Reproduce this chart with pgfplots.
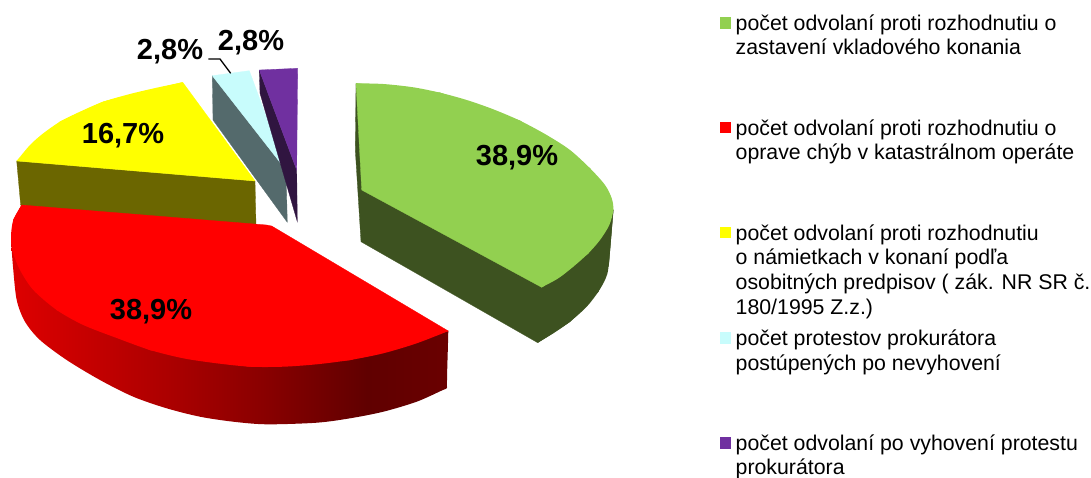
\documentclass[border=0pt]{standalone}
\usepackage{pgfplots}
\pgfplotsset{compat=1.18}
\usepackage{fontspec}
\setmainfont{Liberation Sans}
\pgfdeclarehorizontalshading{redwall}{100bp}{color(0bp)=(rgb,255:red,222;green,0;blue,0);color(25bp)=(rgb,255:red,222;green,0;blue,0);color(31.4bp)=(rgb,255:red,204;green,0;blue,0);color(42.8bp)=(rgb,255:red,172;green,0;blue,0);color(54.3bp)=(rgb,255:red,136;green,0;blue,0);color(65.7bp)=(rgb,255:red,96;green,0;blue,0);color(75bp)=(rgb,255:red,106;green,0;blue,0);color(100bp)=(rgb,255:red,106;green,0;blue,0)}
\definecolor{gtop}{HTML}{92D050}
\definecolor{gwall}{HTML}{3D5220}
\definecolor{rtop}{HTML}{FF0000}
\definecolor{ytop}{HTML}{FFFF00}
\definecolor{ywall}{HTML}{6B6600}
\definecolor{ctop}{HTML}{C8FCFC}
\definecolor{cwall}{HTML}{546A6C}
\definecolor{ptop}{HTML}{7030A0}
\definecolor{pwall}{HTML}{301540}
\newcommand{\pct}{\fontsize{29}{29}\selectfont\bfseries}
\newcommand{\leg}{\fontsize{21.3}{24}\selectfont}
\begin{document}
\begin{tikzpicture}
\clip (0,0) rectangle (1091pt,477pt);
\begin{axis}[at={(0,0)},anchor=south west,scale only axis,width=1091pt,height=477pt,
  xmin=0,xmax=1091,ymin=0,ymax=477,y dir=reverse,hide axis,clip=false]
% light blue slice
\addplot[fill=cwall,draw=cwall,line width=.3pt] coordinates {(212.3,75.7)(286,170)(287.3,222.3)(213,120)(212.3,75.7)};
\addplot[fill=ctop,draw=ctop,line width=.3pt] coordinates {(212.3,75.7)(249.3,70.7)(286,170)(212.3,75.7)};
% purple slice
\addplot[fill=pwall,draw=pwall,line width=.3pt] coordinates {(259.3,70)(296.7,170)(297.3,221.7)(260,93.3)(259.3,70)};
\addplot[fill=ptop,draw=ptop,line width=.3pt] coordinates {(259.3,70)(297.7,68.3)(296.7,170)(259.3,70)};
% yellow slice
\addplot[fill=ywall,draw=ywall,line width=.3pt] coordinates {(16.7,161)(20.7,205.3)(256,225.3)(255,181)(16.7,161)};
\addplot[smooth,fill=ytop,draw=none] coordinates {(16.7,161)(30,145)(43.3,133.3)(60,121.7)(80,111.7)(103.3,101.7)(130,94)(156.7,87.7)(182.7,82.3)};
\addplot[fill=ytop,draw=ytop,line width=.3pt] coordinates {(182.7,82.3)(255,181)(16.7,161)(60,121.7)(103.3,101.7)(182.7,82.3)};
% red slice
\addplot[smooth,shading=redwall,draw=none] coordinates {(448.3,331)(447.8,350)(447.2,370)(446.9,385)(446.7,388.3)(442,390.4)(416.7,401.7)(383.3,411.7)(350,418.3)(316.7,422.7)(266.7,424.3)(233.3,421.7)(200,416.7)(166.7,408.3)(133.3,396.7)(100,380)(66.7,360)(40,340)(25,321.7)(16.7,300)(13,266.7)(11,240)};
\addplot[smooth,fill=rtop,draw=none] coordinates {(448.3,331)(416.7,343.3)(383.3,353.3)(350,360)(316.7,364.3)(283.3,366.7)(250,366.7)(216.7,363.3)(183.3,358.3)(150,350)(116.7,338)(83.3,325)(56.7,310)(33.3,290)(20,270)(12.7,251.7)(11,236.7)(13.3,220)(21.7,205)};
\addplot[fill=rtop,draw=rtop,line width=.3pt] coordinates {(21.7,205)(266.7,225)(271.7,226)(448.3,331)(350,360)(250,366.7)(150,350)(56.7,310)(12.7,251.7)(13.3,220)(21.7,205)};
% green slice
\addplot[smooth,fill=gwall,draw=none] coordinates {(537.7,342.7)(553.3,333.3)(570,321.7)(586.7,306.7)(598.3,291.7)(605.7,278.3)(608.7,265)(613.3,210)};
\addplot[fill=gwall,draw=gwall,line width=.3pt] coordinates {(356,83.3)(355.3,150)(361,241.7)(537.7,342.7)(570,321.7)(598.3,291.7)(608.7,265)(613.3,210)(356,83.3)};
\addplot[smooth,fill=gtop,draw=none] coordinates {(356,83.3)(383.3,84)(413.3,87.3)(440,92.7)(466.7,100)(493.3,109.3)(520,120.7)(546.7,135)(570,150)(590,168.3)(605,185)(611.7,198.3)(613.3,210)(609.3,225)(600,240)(588.3,253.3)(573.3,266.7)(558.3,278.3)(541.7,287.3)};
\addplot[fill=gtop,draw=gtop,line width=.3pt] coordinates {(356,83.3)(440,92.7)(520,120.7)(590,168.3)(613.3,210)(588.3,253.3)(541.7,287.3)(361.7,190)(356,83.3)};
% leader line
\addplot[black,line width=1.3pt] coordinates {(208.3,59)(220,59)(230.7,73.3)};
% legend markers
\addplot[only marks,mark=square*,mark size=5.3pt,color=gtop,mark options={line width=0pt}] coordinates {(725.5,22.7)};
\addplot[only marks,mark=square*,mark size=5.3pt,color=rtop,mark options={line width=0pt}] coordinates {(725.5,127.5)};
\addplot[only marks,mark=square*,mark size=5.3pt,color=ytop,mark options={line width=0pt}] coordinates {(725.5,232.5)};
\addplot[only marks,mark=square*,mark size=5.3pt,color=ctop,mark options={line width=0pt}] coordinates {(725.5,337.7)};
\addplot[only marks,mark=square*,mark size=5.3pt,color=ptop,mark options={line width=0pt}] coordinates {(725.5,442.8)};
% value labels
\node[font=\pct,inner sep=0pt] at (axis cs:517,158) {38,9\%};
\node[font=\pct,inner sep=0pt] at (axis cs:151,312) {38,9\%};
\node[font=\pct,inner sep=0pt] at (axis cs:123,136) {16,7\%};
\node[font=\pct,inner sep=0pt] at (axis cs:170,52) {2,8\%};
\node[font=\pct,inner sep=0pt] at (axis cs:251,43) {2,8\%};
% legend text
\node[font=\leg,inner sep=0pt,anchor=base west] at (axis cs:735.5,30) {počet odvolaní proti rozhodnutiu o};
\node[font=\leg,inner sep=0pt,anchor=base west] at (axis cs:735.5,54.5) {zastavení vkladového konania};
\node[font=\leg,inner sep=0pt,anchor=base west] at (axis cs:735.5,135) {počet odvolaní proti rozhodnutiu o};
\node[font=\leg,inner sep=0pt,anchor=base west] at (axis cs:735.5,159) {oprave chýb v katastrálnom operáte};
\node[font=\leg,inner sep=0pt,anchor=base west] at (axis cs:735.5,240) {počet odvolaní proti rozhodnutiu};
\node[font=\leg,inner sep=0pt,anchor=base west] at (axis cs:735.5,264.5) {o námietkach v konaní podľa};
\node[font=\leg,inner sep=0pt,anchor=base west] at (axis cs:735.5,289) {osobitných predpisov ( zák. NR SR č.};
\node[font=\leg,inner sep=0pt,anchor=base west] at (axis cs:735.5,314) {180/1995 Z.z.)};
\node[font=\leg,inner sep=0pt,anchor=base west] at (axis cs:735.5,345) {počet protestov prokurátora};
\node[font=\leg,inner sep=0pt,anchor=base west] at (axis cs:735.5,370) {postúpených po nevyhovení};
\node[font=\leg,inner sep=0pt,anchor=base west] at (axis cs:735.5,450.5) {počet odvolaní po vyhovení protestu};
\node[font=\leg,inner sep=0pt,anchor=base west] at (axis cs:735.5,474.5) {prokurátora};
\end{axis}
\end{tikzpicture}
\end{document}
